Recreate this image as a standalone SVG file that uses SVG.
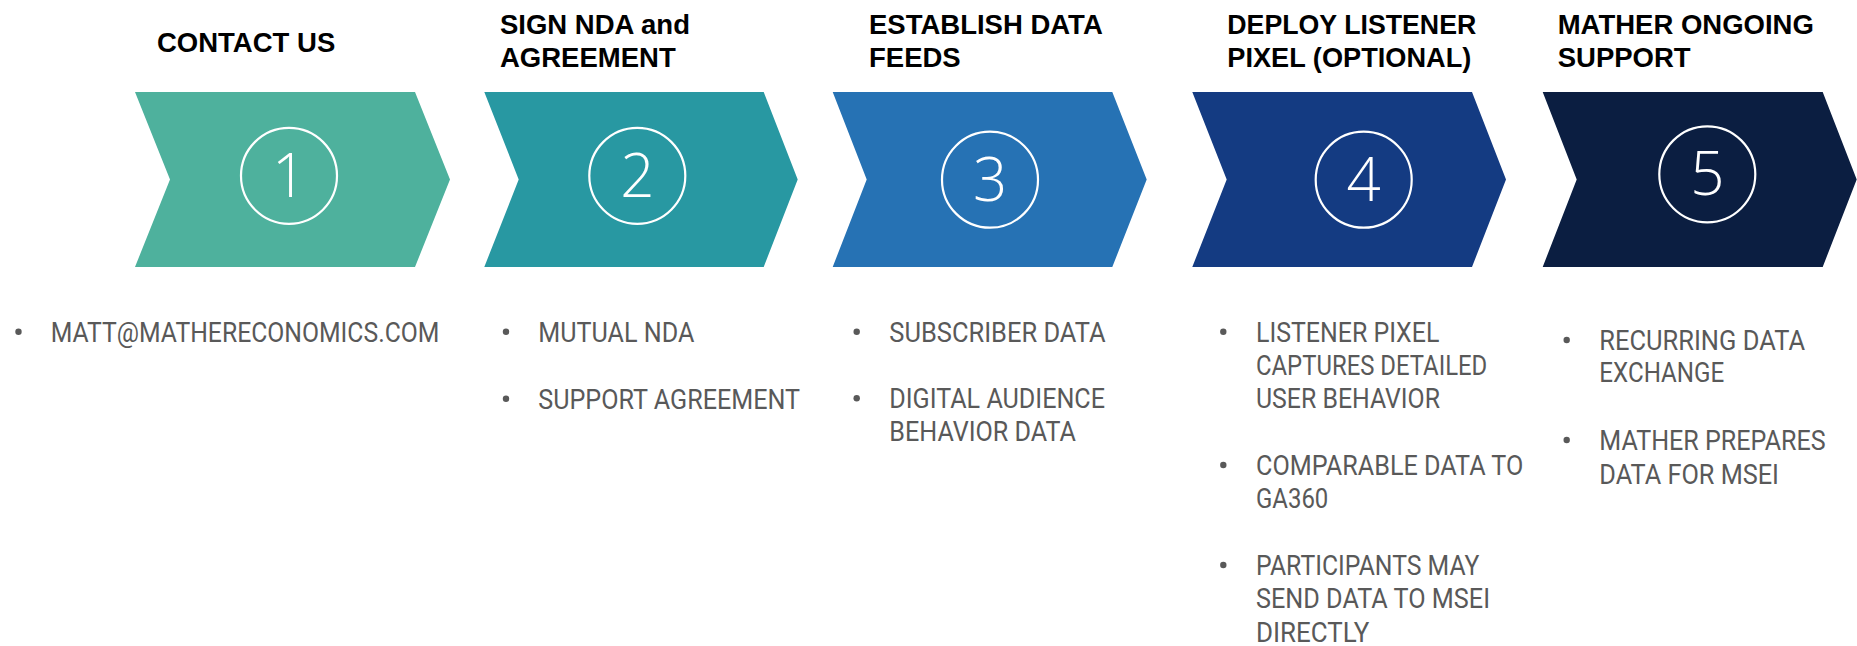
<svg xmlns="http://www.w3.org/2000/svg" width="1857" height="646" viewBox="0 0 1857 646">
<style>
.hd{font-family:"Liberation Sans",Arial,sans-serif;font-weight:bold;font-size:27.5px;fill:#000}
.num{font-family:"Open Sans","Noto Sans",sans-serif;font-weight:300;font-size:60px;fill:#fff;text-anchor:middle}
.ring{fill:none;stroke:#fff;stroke-width:2.2}
.bt{font-family:Roboto,"Liberation Sans",sans-serif;font-size:28.5px;fill:#595959}
.dot{fill:#595959}
</style>
<rect width="1857" height="646" fill="#fff"/>
<g id="connectors"></g>
<g id="step1">
<text class="hd" x="157" y="52">CONTACT US</text>
<polygon points="135,92 415,92 450,179.5 415,267 135,267 170,179.5" fill="#4EB19D"/>
<circle class="ring" cx="289" cy="175.8" r="48"/>
<text class="num" x="289" y="196.7">1</text>
<circle class="dot" cx="18.5" cy="331.7" r="3.2"/>
<text class="bt" x="50.7" y="342" textLength="388.7" lengthAdjust="spacingAndGlyphs">MATT@MATHERECONOMICS.COM</text>
</g>
<g id="step2">
<text class="hd" x="500" y="34.3">SIGN NDA and</text>
<text class="hd" x="500" y="66.7">AGREEMENT</text>
<polygon points="484.3,92 763.7,92 797.7,179.5 763.7,267 484.3,267 518.7,179.5" fill="#2898A2"/>
<circle class="ring" cx="637.3" cy="175.8" r="48"/>
<text class="num" x="637.3" y="196.7">2</text>
<circle class="dot" cx="506" cy="331.7" r="3.2"/>
<text class="bt" x="538.3" y="342" textLength="156" lengthAdjust="spacingAndGlyphs">MUTUAL NDA</text>
<circle class="dot" cx="506" cy="398.7" r="3.2"/>
<text class="bt" x="538.3" y="409" textLength="261.7" lengthAdjust="spacingAndGlyphs">SUPPORT AGREEMENT</text>
</g>
<g id="step3">
<text class="hd" x="869" y="34.3">ESTABLISH DATA</text>
<text class="hd" x="869" y="66.7">FEEDS</text>
<polygon points="832.7,92 1112.3,92 1146.7,179.5 1112.3,267 832.7,267 866.7,179.5" fill="#2672B4"/>
<circle class="ring" cx="990" cy="179.7" r="48"/>
<text class="num" x="990" y="200.6">3</text>
<circle class="dot" cx="856.7" cy="331.7" r="3.2"/>
<text class="bt" x="889.3" y="341.7" textLength="216.4" lengthAdjust="spacingAndGlyphs">SUBSCRIBER DATA</text>
<circle class="dot" cx="856.7" cy="398.3" r="3.2"/>
<text class="bt" x="889.3" y="408.3" textLength="215.7" lengthAdjust="spacingAndGlyphs">DIGITAL AUDIENCE</text>
<text class="bt" x="889.3" y="440.7" textLength="186.7" lengthAdjust="spacingAndGlyphs">BEHAVIOR DATA</text>
</g>
<g id="step4">
<text class="hd" x="1227.3" y="34.3" textLength="249" lengthAdjust="spacingAndGlyphs">DEPLOY LISTENER</text>
<text class="hd" x="1227.3" y="66.7" textLength="244" lengthAdjust="spacingAndGlyphs">PIXEL (OPTIONAL)</text>
<polygon points="1192.3,92 1472,92 1506,179.5 1472,267 1192.3,267 1226.7,179.5" fill="#143B82"/>
<circle class="ring" cx="1363.7" cy="179.7" r="48"/>
<text class="num" x="1363.7" y="200.6">4</text>
<circle class="dot" cx="1223.3" cy="331.7" r="3.2"/>
<text class="bt" x="1256" y="341.7" textLength="183.3" lengthAdjust="spacingAndGlyphs">LISTENER PIXEL</text>
<text class="bt" x="1256" y="375" textLength="231.3" lengthAdjust="spacingAndGlyphs">CAPTURES DETAILED</text>
<text class="bt" x="1256" y="408.3" textLength="184" lengthAdjust="spacingAndGlyphs">USER BEHAVIOR</text>
<circle class="dot" cx="1223.3" cy="465" r="3.2"/>
<text class="bt" x="1256" y="475" textLength="267.3" lengthAdjust="spacingAndGlyphs">COMPARABLE DATA TO</text>
<text class="bt" x="1256" y="508.3" textLength="72.3" lengthAdjust="spacingAndGlyphs">GA360</text>
<circle class="dot" cx="1223.3" cy="565" r="3.2"/>
<text class="bt" x="1256" y="575" textLength="223.3" lengthAdjust="spacingAndGlyphs">PARTICIPANTS MAY</text>
<text class="bt" x="1256" y="608.3" textLength="234" lengthAdjust="spacingAndGlyphs">SEND DATA TO MSEI</text>
<text class="bt" x="1256" y="641.6" textLength="113.3" lengthAdjust="spacingAndGlyphs">DIRECTLY</text>
</g>
<g id="step5">
<text class="hd" x="1557.7" y="34.3">MATHER ONGOING</text>
<text class="hd" x="1557.7" y="66.7">SUPPORT</text>
<polygon points="1542.7,92 1822.7,92 1856.7,179.5 1822.7,267 1542.7,267 1576.7,179.5" fill="#0B1E41"/>
<circle class="ring" cx="1707.3" cy="174.3" r="48"/>
<text class="num" x="1707.3" y="195.2">5</text>
<circle class="dot" cx="1566.7" cy="340" r="3.2"/>
<text class="bt" x="1599.3" y="350" textLength="205.7" lengthAdjust="spacingAndGlyphs">RECURRING DATA</text>
<text class="bt" x="1599.3" y="382.3" textLength="125" lengthAdjust="spacingAndGlyphs">EXCHANGE</text>
<circle class="dot" cx="1566.7" cy="440" r="3.2"/>
<text class="bt" x="1599.3" y="450" textLength="226.3" lengthAdjust="spacingAndGlyphs">MATHER PREPARES</text>
<text class="bt" x="1599.3" y="484" textLength="179.7" lengthAdjust="spacingAndGlyphs">DATA FOR MSEI</text>
</g>
</svg>
